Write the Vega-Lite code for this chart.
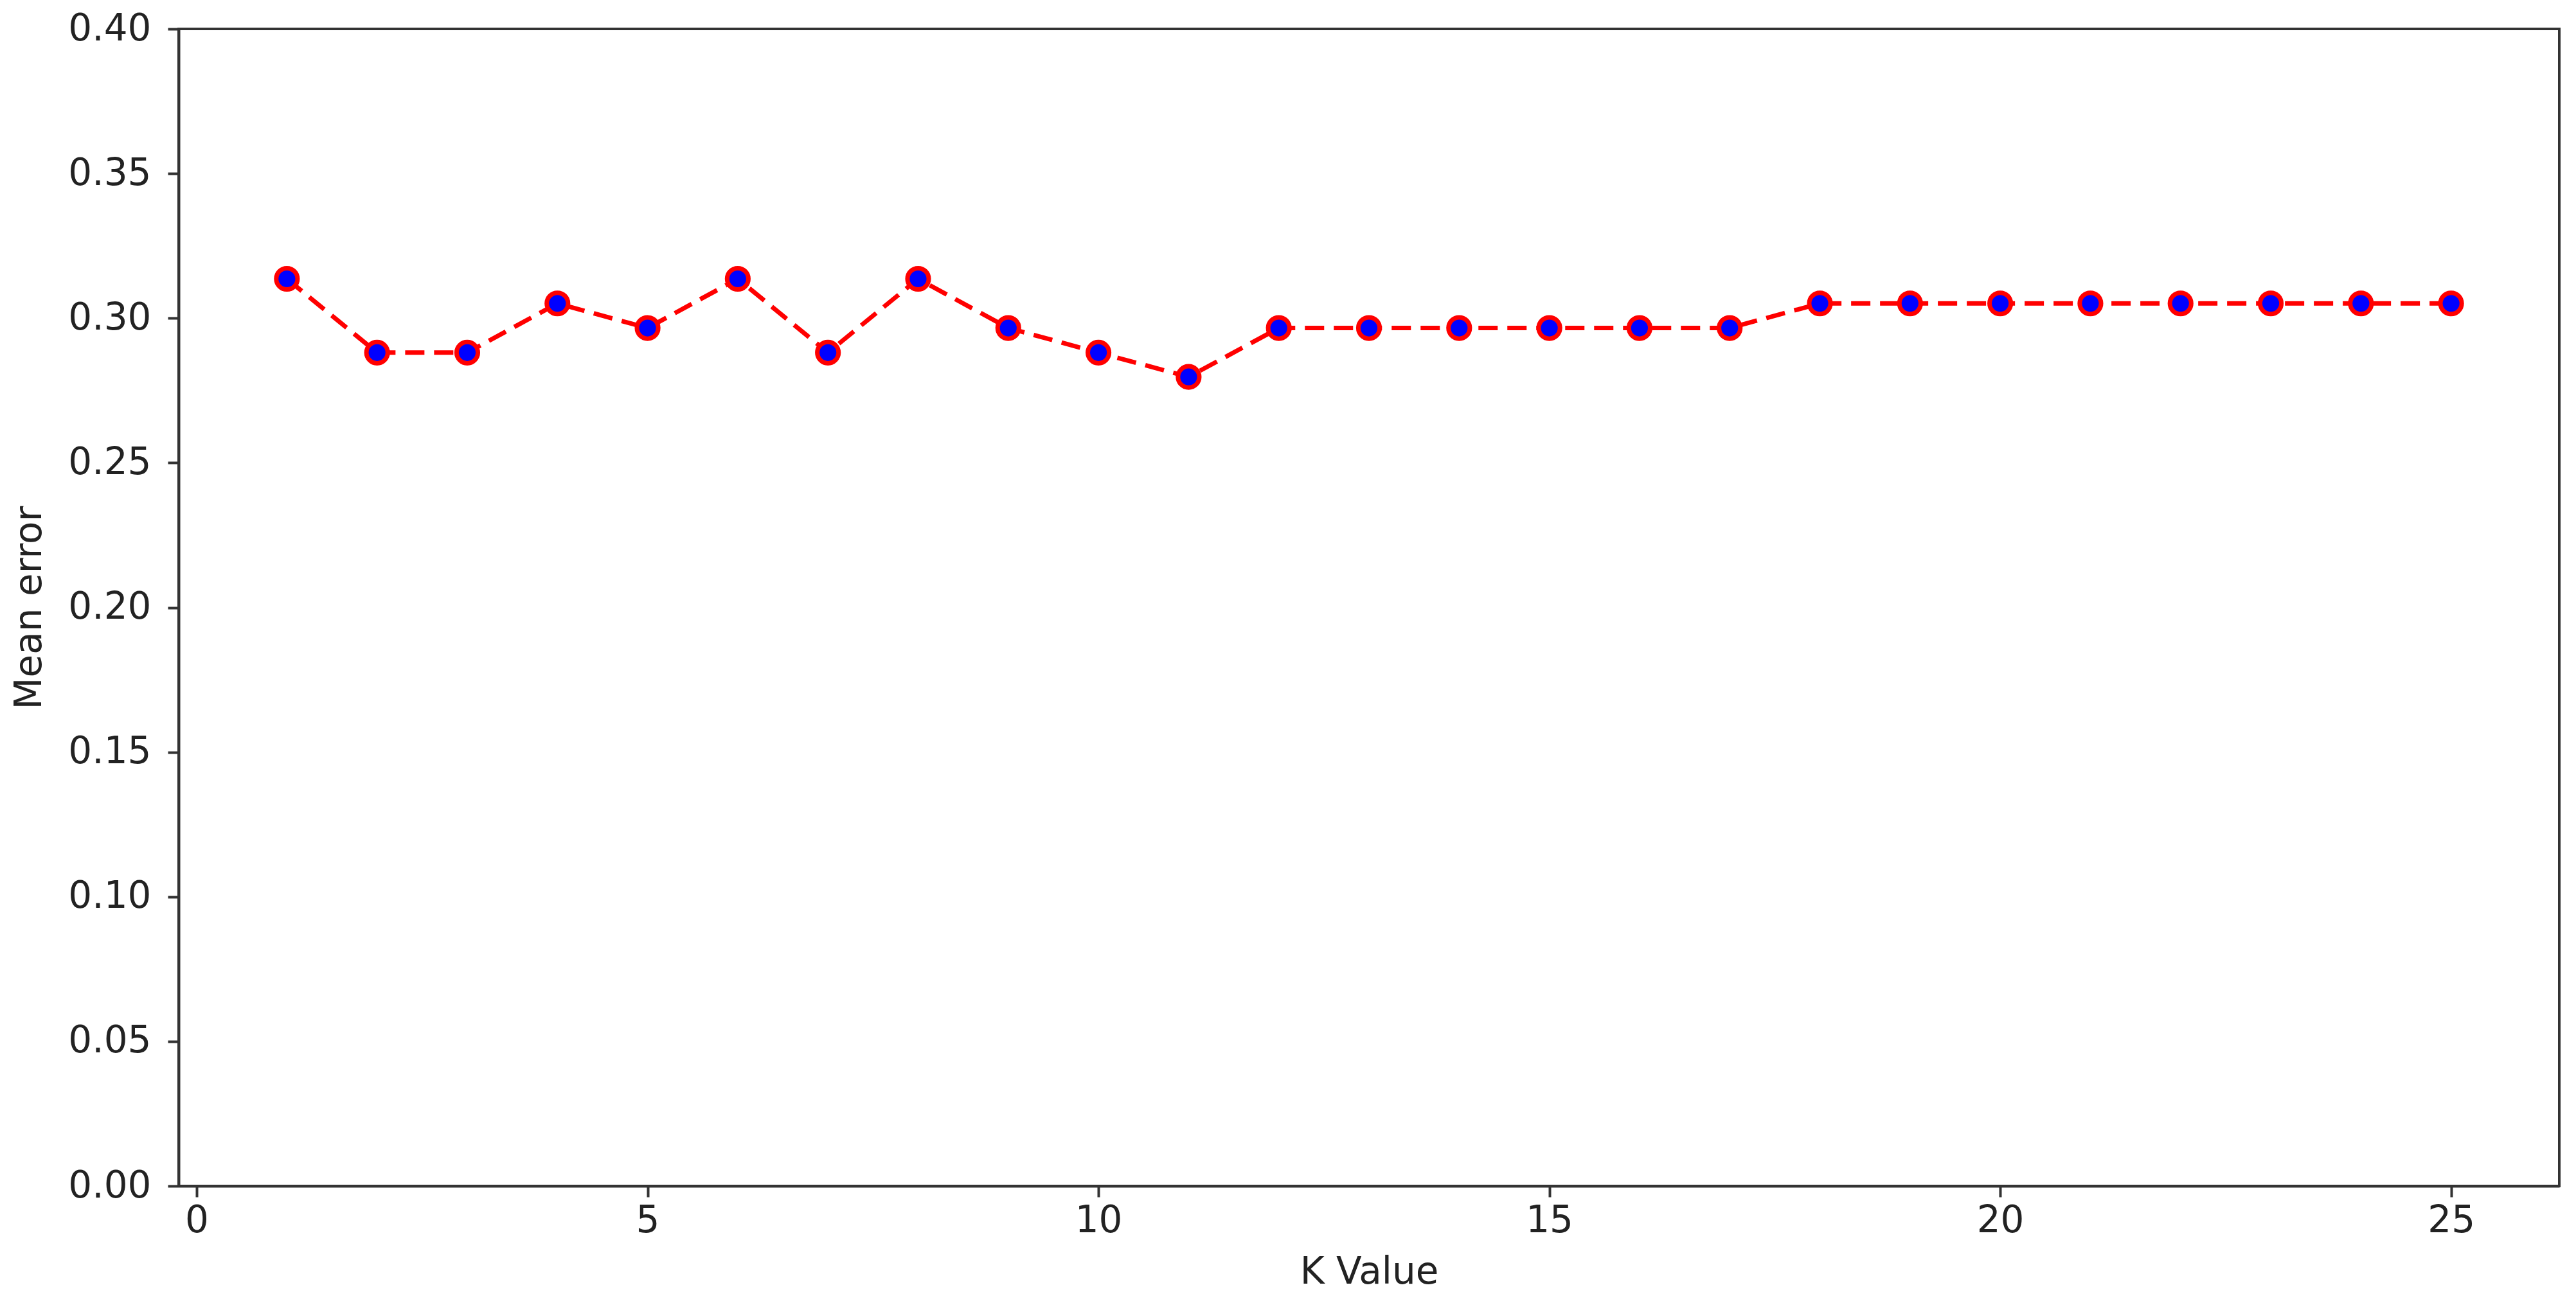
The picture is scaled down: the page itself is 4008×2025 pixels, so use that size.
{
  "$schema": "https://vega.github.io/schema/vega-lite/v6.json",
  "width": 3704,
  "height": 1801,
  "autosize": {"type": "none"},
  "padding": {"left": 278, "top": 45, "right": 26, "bottom": 179},
  "background": "white",
  "config": {
    "view": {"stroke": "#333333", "strokeWidth": 4},
    "axis": {
      "domainColor": "#333333", "domainWidth": 4,
      "tickColor": "#333333", "tickWidth": 4, "tickSize": 17,
      "labelFont": "DejaVu Sans", "labelFontSize": 58, "labelColor": "#222222",
      "titleFont": "DejaVu Sans", "titleFontSize": 58, "titleFontWeight": "normal", "titleColor": "#222222",
      "grid": false
    }
  },
  "data": {
    "values": [
      {"k": 1, "err": 0.3136}, {"k": 2, "err": 0.2881}, {"k": 3, "err": 0.2881},
      {"k": 4, "err": 0.3051}, {"k": 5, "err": 0.2966}, {"k": 6, "err": 0.3136},
      {"k": 7, "err": 0.2881}, {"k": 8, "err": 0.3136}, {"k": 9, "err": 0.2966},
      {"k": 10, "err": 0.2881}, {"k": 11, "err": 0.2797}, {"k": 12, "err": 0.2966},
      {"k": 13, "err": 0.2966}, {"k": 14, "err": 0.2966}, {"k": 15, "err": 0.2966},
      {"k": 16, "err": 0.2966}, {"k": 17, "err": 0.2966}, {"k": 18, "err": 0.3051},
      {"k": 19, "err": 0.3051}, {"k": 20, "err": 0.3051}, {"k": 21, "err": 0.3051},
      {"k": 22, "err": 0.3051}, {"k": 23, "err": 0.3051}, {"k": 24, "err": 0.3051},
      {"k": 25, "err": 0.3051}
    ]
  },
  "encoding": {
    "x": {
      "field": "k", "type": "quantitative",
      "scale": {"domain": [-0.2, 26.2], "nice": false, "zero": false},
      "axis": {"title": "K Value", "values": [0, 5, 10, 15, 20, 25], "format": "d", "labelPadding": 8, "titlePadding": 22}
    },
    "y": {
      "field": "err", "type": "quantitative",
      "scale": {"domain": [0, 0.4], "nice": false},
      "axis": {"title": "Mean error", "values": [0, 0.05, 0.1, 0.15, 0.2, 0.25, 0.3, 0.35, 0.4], "format": ".2f", "labelPadding": 26, "titlePadding": 30}
    }
  },
  "layer": [
    {"mark": {"type": "line", "color": "#ff0000", "strokeWidth": 7, "strokeDash": [30, 15]}},
    {"mark": {"type": "point", "shape": "circle", "filled": true, "fill": "#0000ff", "stroke": "#ff0000", "strokeWidth": 7, "size": 1100, "opacity": 1}}
  ]
}
